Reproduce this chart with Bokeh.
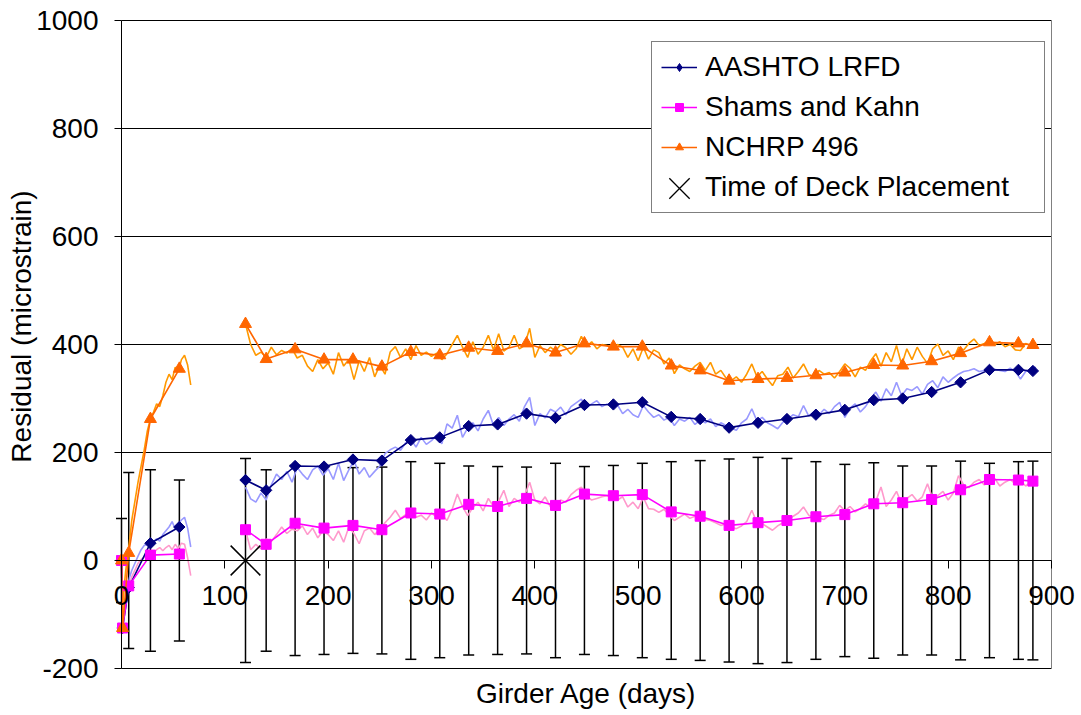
import math
from bokeh.plotting import figure
from bokeh.models import (ColumnDataSource, Whisker, TeeHead, LinearAxis, FixedTicker,
                          Legend, LegendItem, Range1d, Grid)
from bokeh.core.properties import value
from bokeh.embed import file_html
from bokeh.resources import INLINE

# ---------------- data ----------------
# model predictions, sampled every four weeks (two segments: before / after the storage gap)
model_days_early = [0, 1, 7, 28, 56]
model_days_late = [120, 140, 168, 196, 224, 252, 280, 308, 336, 364, 392, 420, 448, 476,
                   504, 532, 560, 588, 616, 644, 672, 700, 728, 756, 784, 812, 840, 868, 882]

aashto_early = [0, -125, -50, 32, 62]
aashto_late = [149, 130, 175, 174, 187, 185, 223, 228, 249, 252, 272, 264, 288, 289, 293,
               266, 262, 246, 255, 262, 270, 279, 297, 300, 312, 330, 353, 353, 351]

shams_early = [0, -125, -47, 10, 12]
shams_late = [57, 30, 69, 60, 65, 57, 88, 86, 104, 100, 115, 102, 123, 120, 122,
              90, 82, 65, 70, 74, 81, 85, 105, 107, 113, 131, 150, 149, 147]

nchrp_early = [0, -125, 14, 262, 355]
nchrp_late = [438, 373, 391, 372, 372, 359, 386, 380, 394, 388, 402, 385, 402, 396, 396,
              361, 352, 333, 336, 338, 343, 348, 362, 361, 369, 384, 404, 402, 399]

# measurement uncertainty band (+/-) drawn about zero
err_days = [0, 7, 28, 56] + model_days_late
err_half = [78, 163, 168, 149,
            189, 168, 176, 174, 172, 173, 183, 180, 175, 174, 173, 180, 174, 176, 180,
            183, 185, 188, 191, 189, 183, 178, 181, 175, 175, 184, 180, 183, 184]

# daily residual traces
raw_days_early = [0, 2, 4, 6, 8, 10, 13, 16, 19, 22, 25, 28, 31, 34, 37, 40, 43, 46, 49,
                  52, 55, 58, 61, 64, 67]
raw_days_late = list(range(120, 886, 5))

raw_nchrp_early = [-125, -60, -20, 10, 40, 75, 110, 145, 175, 205, 240, 262, 275, 290, 285,
                   305, 330, 345, 335, 358, 350, 372, 380, 362, 325]
raw_aashto_early = [-125, -95, -70, -50, -30, -18, -5, 8, 20, 28, 30, 32, 35, 40, 36,
                    48, 55, 62, 72, 58, 68, 75, 80, 60, 25]
raw_shams_early = [-125, -100, -75, -55, -42, -30, -18, -5, 2, 6, 9, 10, 14, 20, 24,
                   18, 24, 28, 20, 30, 22, 32, 30, 5, -28]

raw_nchrp_late = [
    438, 400, 380, 386, 376, 395, 381, 389, 384, 393,
    375, 380, 360, 350, 372, 355, 366, 345, 385, 360,
    372, 335, 370, 350, 376, 340, 362, 345, 386, 396,
    376, 392, 372, 398, 380, 386, 378, 384, 372, 383,
    400, 417, 395, 376, 405, 382, 395, 417, 390, 420,
    388, 395, 417, 392, 398, 430, 376, 398, 385, 395,
    388, 400, 394, 382, 392, 415, 396, 405, 392, 400,
    398, 392, 400, 395, 376, 392, 370, 395, 373, 390,
    385, 364, 375, 346, 362, 355, 350, 360, 367, 352,
    367, 345, 352, 338, 333, 340, 330, 345, 364, 340,
    350, 336, 324, 342, 345, 358, 338, 350, 364, 345,
    340, 352, 345, 348, 338, 350, 364, 356, 340, 358,
    352, 370, 383, 360, 385, 368, 398, 362, 392, 372,
    395, 378, 365, 392, 401, 380, 388, 372, 395, 390,
    402, 410, 398, 402, 408, 400, 405, 396, 400, 390,
    389, 402, 398, 404]

raw_aashto_late = [
    136, 114, 108, 125, 112, 140, 160, 150, 165, 145,
    172, 160, 150, 168, 175, 158, 170, 150, 180, 148,
    168, 185, 160, 172, 154, 165, 175, 198, 205, 210,
    204, 218, 225, 210, 228, 215, 222, 232, 216, 253,
    245, 269, 228, 245, 255, 240, 262, 278, 250, 265,
    250, 262, 270, 258, 285, 302, 250, 272, 264, 280,
    275, 284, 270, 285, 292, 299, 282, 290, 296, 285,
    290, 283, 288, 272, 280, 270, 265, 287, 275, 265,
    270, 260, 265, 250, 262, 258, 265, 252, 260, 255,
    262, 248, 255, 250, 245, 241, 255, 262, 281, 258,
    265, 255, 250, 244, 256, 262, 270, 266, 287, 268,
    275, 270, 280, 272, 285, 293, 265, 282, 290, 275,
    285, 300, 312, 295, 318, 305, 330, 305, 318, 315,
    322, 308, 326, 333, 320, 340, 330, 338, 345, 350,
    352, 355, 350, 352, 356, 354, 352, 350, 356, 350,
    336, 350, 354, 358]

raw_shams_late = [
    56, 20, 30, 22, 40, 35, 48, 62, 50, 58,
    55, 64, 48, 60, 42, 55, 48, 37, 55, 34,
    62, 50, 31, 55, 60, 48, 58, 70, 80, 93,
    78, 85, 90, 80, 84, 75, 88, 80, 85, 74,
    95, 123, 100, 83, 98, 108, 92, 115, 100, 110,
    130, 100, 115, 108, 120, 145, 112, 105, 118, 100,
    96, 112, 108, 122, 130, 136, 120, 112, 115, 118,
    120, 115, 112, 118, 99, 108, 96, 117, 96, 95,
    89, 95, 84, 74, 80, 86, 78, 82, 80, 76,
    74, 70, 65, 68, 62, 59, 64, 72, 93, 70,
    68, 62, 56, 64, 70, 75, 82, 88, 99, 84,
    80, 78, 76, 84, 88, 102, 92, 100, 90, 96,
    105, 98, 110, 136, 100, 112, 128, 105, 115, 122,
    110, 118, 142, 115, 120, 128, 112, 125, 157, 140,
    135, 145, 150, 140, 146, 152, 138, 145, 150, 142,
    148, 138, 145, 150]

deck_day = [120]
deck_value = [0]

x_ticks = [0, 100, 200, 300, 400, 500, 600, 700, 800, 900]
y_ticks = [-200, 0, 200, 400, 600, 800, 1000]
grid_values = [200, 400, 600, 800, 1000]
X_LIM = (0, 900)
Y_LIM = (-200, 1000)
x_title = "Girder Age (days)"
y_title = "Residual (microstrain)"

# ---------------- styling ----------------
FONT = "Liberation Sans"
FS = "28px"
NAVY, MAGENTA, ORANGE = "#000080", "#FF00FF", "#FF6600"
NAVY_LT, MAGENTA_LT, ORANGE_LT = "#9999FF", "#FF99CC", "#FF9900"
NAN = float("nan")
W, H = 1081, 715

# The frame covers the whole canvas so that axes crossing inside it (and their
# end labels) are never clipped; the plot box itself spans days 0-900 and
# residuals -200..1000, placed at 121..1051 px across and 20..668 px down.
PX_PER_DAY = 930 / (X_LIM[1] - X_LIM[0])
PX_PER_UNIT = 648 / (Y_LIM[1] - Y_LIM[0])
x_lo = X_LIM[0] - 121 / PX_PER_DAY
x_hi = x_lo + W / PX_PER_DAY
y_hi = Y_LIM[1] + 20 / PX_PER_UNIT
y_lo = y_hi - H / PX_PER_UNIT

p = figure(width=W, height=H, output_backend="svg", toolbar_location=None,
           x_range=Range1d(x_lo, x_hi), y_range=Range1d(y_lo, y_hi),
           x_axis_location=None, y_axis_location=None,
           min_border_left=0, min_border_right=0, min_border_top=0,
           min_border_bottom=0)
p.background_fill_color = "white"
p.border_fill_color = "white"
p.outline_line_color = None
for g in p.grid:
    g.visible = False

# horizontal grid restricted to the plot box
p.add_layout(Grid(dimension=1, ticker=FixedTicker(ticks=grid_values),
                  cross_bounds=X_LIM, grid_line_color="black", grid_line_width=1))

# plot box: bottom edge black, right edge grey
p.segment(x0=[X_LIM[0]], y0=[Y_LIM[0]], x1=[X_LIM[1]], y1=[Y_LIM[0]],
          line_color="black", line_width=1)
p.segment(x0=[X_LIM[1]], y0=[Y_LIM[0]], x1=[X_LIM[1]], y1=[Y_LIM[1]],
          line_color="#808080", line_width=1)

# vertical axis at day 0
ya = LinearAxis(fixed_location=X_LIM[0], ticker=FixedTicker(ticks=y_ticks), bounds=Y_LIM)
ya.major_label_overrides = {t: str(t) for t in y_ticks}
ya.axis_line_color = "black"
ya.major_tick_out = 7
ya.major_tick_in = 0
ya.minor_tick_out = 0
ya.minor_tick_in = 0
ya.major_label_standoff = 16
ya.major_label_text_font = FONT
ya.major_label_text_font_size = FS
ya.major_label_text_color = "black"
p.add_layout(ya, "left")

# day axis crossing at zero residual
zx = LinearAxis(fixed_location=0, ticker=FixedTicker(ticks=x_ticks), bounds=X_LIM)
zx.axis_line_color = "black"
zx.major_tick_out = 8
zx.major_tick_in = 0
zx.minor_tick_out = 0
zx.minor_tick_in = 0
zx.major_label_standoff = 17
zx.major_label_text_font = FONT
zx.major_label_text_font_size = FS
zx.major_label_text_color = "black"
p.add_layout(zx, "below")

# axis titles, centred on the plot box
x_mid = (X_LIM[0] + X_LIM[1]) / 2
y_mid = (Y_LIM[0] + Y_LIM[1]) / 2
p.text(x=[x_mid], y=[Y_LIM[0]], text=[x_title], y_offset=25,
       text_align="center", text_baseline="middle",
       text_font=value(FONT), text_font_size=FS, text_color="black")
p.text(x=[X_LIM[0]], y=[y_mid], text=[y_title], x_offset=-100, y_offset=-18,
       angle=math.pi / 2, text_align="center", text_baseline="middle",
       text_font=value(FONT), text_font_size=FS, text_color="black")

# error bars
err_src = ColumnDataSource(dict(day=err_days, hi=err_half, lo=[-e for e in err_half]))
wh = Whisker(source=err_src, base="day", upper="hi", lower="lo",
             line_color="black", line_width=1.5, level="underlay",
             upper_head=TeeHead(size=11, line_color="black", line_width=1.5),
             lower_head=TeeHead(size=11, line_color="black", line_width=1.5))
p.add_layout(wh)

# daily traces
for d, v, c in [(raw_days_early, raw_aashto_early, NAVY_LT),
                (raw_days_late, raw_aashto_late, NAVY_LT),
                (raw_days_early, raw_shams_early, MAGENTA_LT),
                (raw_days_late, raw_shams_late, MAGENTA_LT),
                (raw_days_early, raw_nchrp_early, ORANGE_LT),
                (raw_days_late, raw_nchrp_late, ORANGE_LT)]:
    p.line(d, v, line_color=c, line_width=1.6)

# model series: (label, early, late, colour, marker, size, angle, legend marker)
series = [
    ("AASHTO LRFD", aashto_early, aashto_late, NAVY, "square", 8, 45, "diamond"),
    ("Shams and Kahn", shams_early, shams_late, MAGENTA, "square", 10, 0, "square"),
    ("NCHRP 496", nchrp_early, nchrp_late, ORANGE, "triangle", 12, 0, "triangle"),
]
items = []
for name, early, late, color, marker, size, ang, lg_marker in series:
    for d, v in [(model_days_early, early), (model_days_late, late)]:
        p.line(d, v, line_color=color, line_width=1.6)
        p.scatter(d, v, marker=marker, size=size, angle=ang, angle_units="deg",
                  fill_color=color, line_color=color)
    lg_line = p.line([NAN], [NAN], line_color=color, line_width=1.6)
    lg_mark = p.scatter([NAN], [NAN], marker=lg_marker, size=size,
                        fill_color=color, line_color=color)
    items.append(LegendItem(label=name, renderers=[lg_line, lg_mark]))

p.scatter(deck_day, deck_value, marker="x", size=42, line_color="black", line_width=1.5)

# the deck-placement entry keeps its row in the main legend; its larger cross
# is drawn by a second, frameless legend laid over that row
lg_blank = p.scatter([NAN], [NAN], marker="x", size=10, line_alpha=0)
items.append(LegendItem(label="Time of Deck Placement", renderers=[lg_blank]))

legend = Legend(items=items, location=(651, 502))
legend.label_text_font = FONT
legend.label_text_font_size = FS
legend.label_text_color = "black"
legend.border_line_color = "black"
legend.border_line_width = 1
legend.background_fill_color = "white"
legend.background_fill_alpha = 1
legend.glyph_width = 36
legend.glyph_height = 20
legend.label_standoff = 8
legend.label_width = 330
legend.spacing = 8
legend.padding = 9
legend.margin = 0
p.add_layout(legend, "center")

lg_x = p.scatter([NAN], [NAN], marker="x", size=10, line_color="black", line_width=1.3)
legend_x = Legend(items=[LegendItem(label=" ", renderers=[lg_x])], location=(643, 491))
legend_x.glyph_width = 72
legend_x.glyph_height = 72
legend_x.label_standoff = 0
legend_x.label_text_font_size = "4px"
legend_x.padding = 0
legend_x.margin = 0
legend_x.spacing = 0
legend_x.border_line_alpha = 0
legend_x.background_fill_alpha = 0
p.add_layout(legend_x, "center")

open("out.html", "w").write(file_html(p, INLINE))
